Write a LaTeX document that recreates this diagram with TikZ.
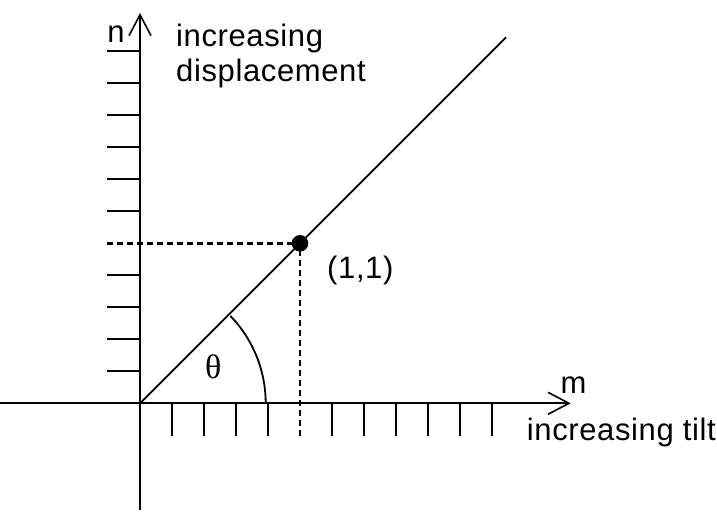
\documentclass[tikz,border=0pt]{standalone}
\usepackage{fontspec}
\setmainfont{Liberation Sans}[LetterSpace=2]
\newfontfamily\thetafont{Liberation Serif}
\usetikzlibrary{arrows.meta}
\begin{document}
\begin{tikzpicture}[x=1pt,y=-1pt,
  axis/.style={line width=2.2pt,-{Straight Barb[length=21pt,width=22pt,line width=1.6pt]}},
  tickmark/.style={line width=2pt},
  guide/.style={line width=2.6pt,dash pattern=on 6pt off 4pt},
  lbl/.style={font=\fontsize{31}{35}\selectfont,inner sep=0pt}]
\useasboundingbox (0,0) rectangle (717,513);
\coordinate (O) at (140,403.3);
\coordinate (Ybot) at (140,510);
\coordinate (Ytop) at (140,13);
\coordinate (Xleft) at (0,403.3);
\coordinate (Xright) at (570.7,403.3);
\coordinate (Dend) at (506,37.3);
\coordinate (P) at (300,243.3);
\coordinate (Pl) at (107,243.3);
\coordinate (Pd) at (300,436);
\coordinate (Astart) at (265.7,403.3);
% axes
\draw[axis] (Ybot) -- (Ytop);
\draw[axis] (Xleft) -- (Xright);
% ticks
\foreach \k in {1,2,3,4,6,7,8,9,10,11}{
  \draw[tickmark] (107,{403.3-32*\k}) -- (140,{403.3-32*\k});
  \draw[tickmark] ({140+32*\k},403.3) -- ({140+32*\k},436);
}
% diagonal
\draw[line width=1.8pt] (O) -- (Dend);
% guides
\draw[guide] (Pl) -- (P) -- (Pd);
\fill (P) circle (8.3);
% angle arc
\draw[line width=1.8pt] (Astart) arc[start angle=0,end angle=-44,radius=125.7];
% labels
\node[lbl,anchor=base] (n) at (116,42.3) {n};
\node[lbl,anchor=base west] (inc1) at (176,46.7) {increasing};
\node[lbl,anchor=base west] (inc2) at (176,81.7) {displacement};
\node[lbl,anchor=base] (m) at (573.5,393.3) {m};
\node[lbl,anchor=base west] (tilt) at (526.7,440) {increasing tilt};
\node[lbl,anchor=base west] (pt) at (327,278.5) {(1,1)};
\node[font=\thetafont\fontsize{34}{36}\selectfont,inner sep=0pt] (th) at (213.3,366.7) {θ};
\end{tikzpicture}
\end{document}
